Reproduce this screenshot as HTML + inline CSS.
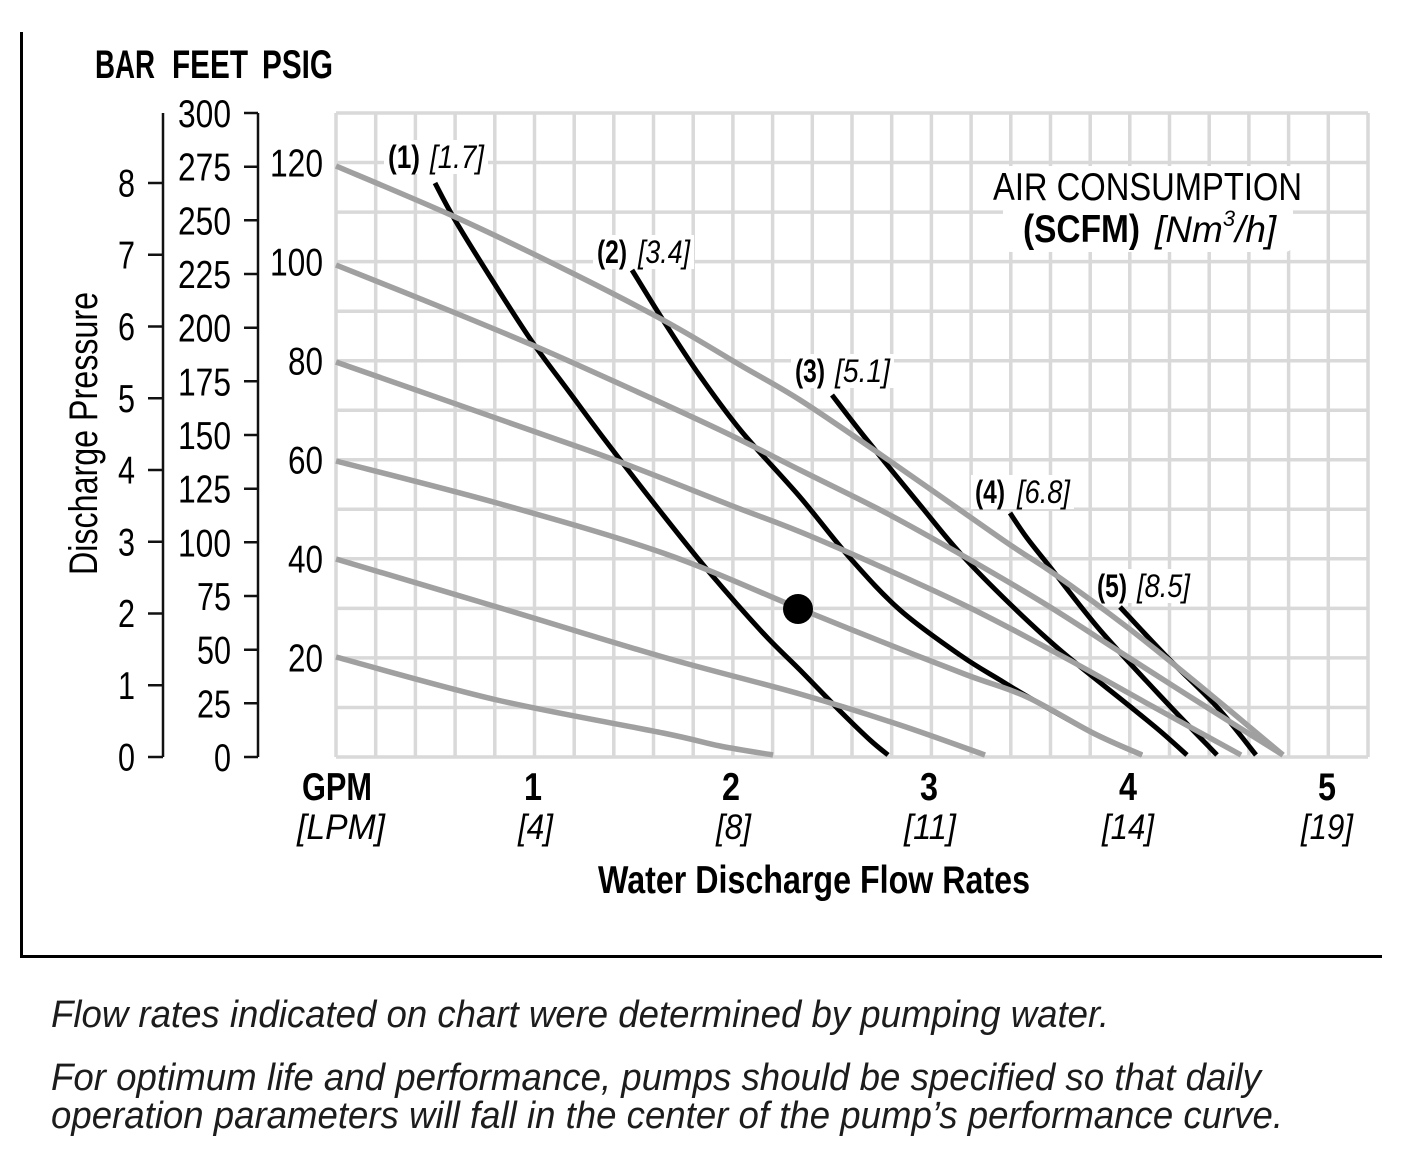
<!DOCTYPE html>
<html>
<head>
<meta charset="utf-8">
<style>
html,body{margin:0;padding:0;background:#fff;}
svg{display:block;}
text{font-family:"Liberation Sans", Arial, sans-serif;fill:#000;}
.b{font-weight:bold;}
.i{font-style:italic;}
</style>
</head>
<body>
<svg id="chart" width="1412" height="1166" viewBox="0 0 1412 1166" xmlns="http://www.w3.org/2000/svg">
<rect x="0" y="0" width="1412" height="1166" fill="#fff"/>

<!-- frame -->
<rect x="20" y="32" width="3" height="926" fill="#000"/>
<rect x="20" y="955" width="1362" height="3" fill="#000"/>

<!-- grid -->
<g stroke="#d9d9d9" stroke-width="3.5" fill="none">
<path d="M336,113V757M375.7,113V757M415.4,113V757M455.1,113V757M494.8,113V757M534.5,113V757M574.2,113V757M613.8,113V757M653.5,113V757M693.2,113V757M732.9,113V757M772.6,113V757M812.3,113V757M852,113V757M891.7,113V757M931.4,113V757M971.1,113V757M1010.8,113V757M1050.5,113V757M1090.2,113V757M1129.8,113V757M1169.5,113V757M1209.2,113V757M1248.9,113V757M1288.6,113V757M1328.3,113V757M1368,113V757"/>
<path d="M336,113H1368M336,162.5H1368M336,212.1H1368M336,261.6H1368M336,311.2H1368M336,360.7H1368M336,410.2H1368M336,459.8H1368M336,509.3H1368M336,558.8H1368M336,608.4H1368M336,657.9H1368M336,707.5H1368M336,757H1368"/>
</g>

<!-- label knockouts -->
<g fill="#fff">
<rect x="384" y="140" width="104" height="34"/>
<rect x="593" y="235" width="101" height="34"/>
<rect x="791" y="354" width="103" height="34"/>
<rect x="971" y="475" width="103" height="34"/>
<rect x="1093" y="569" width="101" height="34"/>
<rect x="990" y="166" width="318" height="42" rx="6"/>
<rect x="1003" y="204" width="290" height="48" rx="8"/>
</g>

<!-- black curves (air consumption) -->
<g stroke="#000" stroke-width="5" fill="none" stroke-linejoin="round">
<polyline class="s" points="435,183 455,220 494,283 533,343 570,393 605,440 660,511 710,573 763,633 800,670 840,711 870,740 888,755"/>
<polyline class="s" points="632,270 663,320 700,376 742,432 800,497 850,558 900,610 960,655 1000,680 1030,698 1093,733 1142,755"/>
<polyline class="s" points="832,395 867,440 920,505 960,553 1010,604 1060,650 1127,704 1160,731 1187,755"/>
<polyline class="s" points="1010,513 1027,538 1050,567 1100,630 1167,703 1217,755"/>
<polyline class="s" points="1120,607 1167,657 1217,707 1256,755"/>
</g>

<!-- gray curves (pressure) -->
<g stroke="#a0a0a0" stroke-width="5.5" fill="none" stroke-linejoin="round">
<polyline class="s" points="336,166 453,216 560,267 663,320 740,365 800,400 877,452 1003,540 1053,573 1127,627 1193,680 1283,755"/>
<polyline class="s" points="336,265 453,312 537,347 620,384 720,430 800,470 890,515 967,558 1050,607 1120,652 1200,703 1283,755"/>
<polyline class="s" points="336,362 530,430 620,462 730,505 815,538 960,603 1060,655 1150,705 1241,755"/>
<polyline class="s" points="336,461 497,503 663,553 798,608 880,641 967,675 1027,697 1093,733 1142,755"/>
<polyline class="s" points="336,559 497,607 663,657 800,694 900,725 985,755"/>
<polyline class="s" points="336,657 497,700 663,733 720,746 773,755"/>
</g>

<circle cx="798" cy="609" r="15" fill="#000"/>

<!-- curve labels -->
<g font-size="32">
<text x="388" y="168" class="b" textLength="32" lengthAdjust="spacingAndGlyphs">(1)</text>
<text x="430" y="168" class="i" textLength="54" lengthAdjust="spacingAndGlyphs">[1.7]</text>
<text x="597" y="263" class="b" textLength="30" lengthAdjust="spacingAndGlyphs">(2)</text>
<text x="638" y="263" class="i" textLength="52" lengthAdjust="spacingAndGlyphs">[3.4]</text>
<text x="795" y="382" class="b" textLength="30" lengthAdjust="spacingAndGlyphs">(3)</text>
<text x="835" y="382" class="i" textLength="55" lengthAdjust="spacingAndGlyphs">[5.1]</text>
<text x="975" y="503" class="b" textLength="30" lengthAdjust="spacingAndGlyphs">(4)</text>
<text x="1017" y="503" class="i" textLength="53" lengthAdjust="spacingAndGlyphs">[6.8]</text>
<text x="1097" y="597" class="b" textLength="30" lengthAdjust="spacingAndGlyphs">(5)</text>
<text x="1137" y="597" class="i" textLength="53" lengthAdjust="spacingAndGlyphs">[8.5]</text>
</g>

<!-- air consumption title -->
<text x="993" y="200" font-size="39" textLength="309" lengthAdjust="spacingAndGlyphs">AIR CONSUMPTION</text>
<text x="1023" y="242" font-size="39" class="b" textLength="117" lengthAdjust="spacingAndGlyphs">(SCFM)</text>
<text x="1155" y="242" font-size="37" class="i">[Nm<tspan dy="-16" font-size="22">3</tspan><tspan dy="16">/h]</tspan></text>

<!-- left axes -->
<g stroke="#111" stroke-width="2.5" fill="none">
<path d="M163,113V757M148,757H163M148,685.3H163M148,613.5H163M148,541.8H163M148,470H163M148,398.3H163M148,326.5H163M148,254.8H163M148,183H163"/>
<path d="M258,113V757M244,113H258M244,166.7H258M244,220.3H258M244,274H258M244,327.7H258M244,381.3H258M244,435H258M244,488.7H258M244,542.3H258M244,596H258M244,649.7H258M244,703.3H258M244,757H258"/>
</g>

<g font-size="40" class="b">
<text x="95" y="78" class="b" textLength="60" lengthAdjust="spacingAndGlyphs">BAR</text>
<text x="172" y="78" class="b" textLength="76" lengthAdjust="spacingAndGlyphs">FEET</text>
<text x="262" y="78" class="b" textLength="71" lengthAdjust="spacingAndGlyphs">PSIG</text>
</g>

<g font-size="39">
<!-- BAR -->
<text x="118" y="196.5" textLength="17" lengthAdjust="spacingAndGlyphs">8</text>
<text x="118" y="268.3" textLength="17" lengthAdjust="spacingAndGlyphs">7</text>
<text x="118" y="340" textLength="17" lengthAdjust="spacingAndGlyphs">6</text>
<text x="118" y="411.8" textLength="17" lengthAdjust="spacingAndGlyphs">5</text>
<text x="118" y="483.5" textLength="17" lengthAdjust="spacingAndGlyphs">4</text>
<text x="118" y="555.3" textLength="17" lengthAdjust="spacingAndGlyphs">3</text>
<text x="118" y="627" textLength="17" lengthAdjust="spacingAndGlyphs">2</text>
<text x="118" y="698.8" textLength="17" lengthAdjust="spacingAndGlyphs">1</text>
<text x="118" y="770.5" textLength="17" lengthAdjust="spacingAndGlyphs">0</text>
<!-- FEET -->
<text x="178" y="127" textLength="53" lengthAdjust="spacingAndGlyphs">300</text>
<text x="178" y="180.7" textLength="53" lengthAdjust="spacingAndGlyphs">275</text>
<text x="178" y="234.3" textLength="53" lengthAdjust="spacingAndGlyphs">250</text>
<text x="178" y="288" textLength="53" lengthAdjust="spacingAndGlyphs">225</text>
<text x="178" y="341.7" textLength="53" lengthAdjust="spacingAndGlyphs">200</text>
<text x="178" y="395.3" textLength="53" lengthAdjust="spacingAndGlyphs">175</text>
<text x="178" y="449" textLength="53" lengthAdjust="spacingAndGlyphs">150</text>
<text x="178" y="502.7" textLength="53" lengthAdjust="spacingAndGlyphs">125</text>
<text x="178" y="556.3" textLength="53" lengthAdjust="spacingAndGlyphs">100</text>
<text x="197" y="610" textLength="34" lengthAdjust="spacingAndGlyphs">75</text>
<text x="197" y="663.7" textLength="34" lengthAdjust="spacingAndGlyphs">50</text>
<text x="197" y="717.3" textLength="34" lengthAdjust="spacingAndGlyphs">25</text>
<text x="214" y="771" textLength="17" lengthAdjust="spacingAndGlyphs">0</text>
<!-- PSIG -->
<text x="270" y="176.5" textLength="53" lengthAdjust="spacingAndGlyphs">120</text>
<text x="270" y="275.5" textLength="53" lengthAdjust="spacingAndGlyphs">100</text>
<text x="288" y="374.5" textLength="35" lengthAdjust="spacingAndGlyphs">80</text>
<text x="288" y="473.5" textLength="35" lengthAdjust="spacingAndGlyphs">60</text>
<text x="288" y="572.5" textLength="35" lengthAdjust="spacingAndGlyphs">40</text>
<text x="288" y="671.5" textLength="35" lengthAdjust="spacingAndGlyphs">20</text>
</g>

<text transform="translate(97,433.5) rotate(-90)" x="0" y="0" font-size="40" text-anchor="middle" textLength="283" lengthAdjust="spacingAndGlyphs">Discharge Pressure</text>

<!-- x axis labels -->
<g font-size="39">
<text x="302" y="800" class="b" textLength="70" lengthAdjust="spacingAndGlyphs">GPM</text>
<text x="524" y="800" class="b" textLength="18" lengthAdjust="spacingAndGlyphs">1</text>
<text x="722" y="800" class="b" textLength="18" lengthAdjust="spacingAndGlyphs">2</text>
<text x="920" y="800" class="b" textLength="18" lengthAdjust="spacingAndGlyphs">3</text>
<text x="1119" y="800" class="b" textLength="18" lengthAdjust="spacingAndGlyphs">4</text>
<text x="1318" y="800" class="b" textLength="18" lengthAdjust="spacingAndGlyphs">5</text>
</g>
<g font-size="35">
<text x="297" y="839" class="i" textLength="88" lengthAdjust="spacingAndGlyphs">[LPM]</text>
<text x="518" y="839" class="i" textLength="35" lengthAdjust="spacingAndGlyphs">[4]</text>
<text x="716" y="839" class="i" textLength="35" lengthAdjust="spacingAndGlyphs">[8]</text>
<text x="904" y="839" class="i" textLength="52" lengthAdjust="spacingAndGlyphs">[11]</text>
<text x="1102" y="839" class="i" textLength="52" lengthAdjust="spacingAndGlyphs">[14]</text>
<text x="1301" y="839" class="i" textLength="52" lengthAdjust="spacingAndGlyphs">[19]</text>
</g>
<text x="598" y="893" font-size="39" class="b" textLength="432" lengthAdjust="spacingAndGlyphs">Water Discharge Flow Rates</text>

<!-- footer -->
<g font-size="38">
<text x="51" y="1027" class="i" fill="#1c1c1c" style="fill:#1c1c1c" textLength="1058" lengthAdjust="spacingAndGlyphs">Flow rates indicated on chart were determined by pumping water.</text>
<text x="51" y="1090" class="i" fill="#1c1c1c" style="fill:#1c1c1c" textLength="1210" lengthAdjust="spacingAndGlyphs">For optimum life and performance, pumps should be specified so that daily</text>
<text x="51" y="1128" class="i" fill="#1c1c1c" style="fill:#1c1c1c" textLength="1232" lengthAdjust="spacingAndGlyphs">operation parameters will fall in the center of the pump’s performance curve.</text>
</g>
</svg>
<script>
(function(){
  var NS="http://www.w3.org/2000/svg";
  var pls=document.querySelectorAll("polyline.s");
  for(var k=0;k<pls.length;k++){
    var pl=pls[k];
    var nums=pl.getAttribute("points").trim().split(/[\s,]+/).map(Number);
    var p=[];
    for(var i=0;i<nums.length;i+=2)p.push([nums[i],nums[i+1]]);
    var d="M"+p[0][0]+","+p[0][1];
    for(var i=0;i<p.length-1;i++){
      var p0=p[i>0?i-1:i],p1=p[i],p2=p[i+1],p3=p[i+2<p.length?i+2:i+1];
      var c1x=p1[0]+(p2[0]-p0[0])/6,c1y=p1[1]+(p2[1]-p0[1])/6;
      var c2x=p2[0]-(p3[0]-p1[0])/6,c2y=p2[1]-(p3[1]-p1[1])/6;
      d+=" C"+c1x.toFixed(1)+","+c1y.toFixed(1)+" "+c2x.toFixed(1)+","+c2y.toFixed(1)+" "+p2[0]+","+p2[1];
    }
    var path=document.createElementNS(NS,"path");
    path.setAttribute("d",d);
    pl.parentNode.replaceChild(path,pl);
  }
})();
</script>
</body>
</html>
